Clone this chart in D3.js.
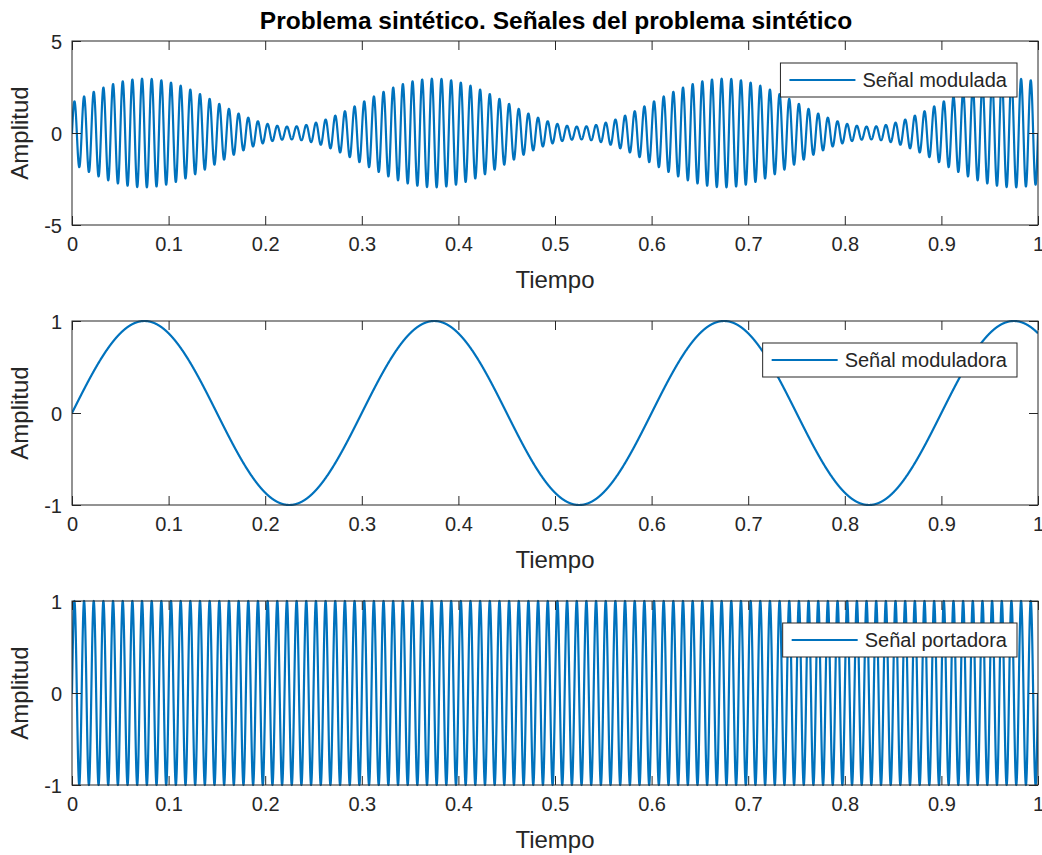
<!DOCTYPE html>
<html>
<head>
<meta charset="utf-8">
<script src="https://cdn.jsdelivr.net/npm/d3@7"></script>
<style>
  html, body { margin: 0; padding: 0; background: #ffffff; }
  svg text { font-family: "Liberation Sans", Arial, Helvetica, sans-serif; }
</style>
</head>
<body>
<svg id="chart" width="1042" height="855"></svg>
<script>
// ---- data ----
const figureTitle = "Problema sintético. Señales del problema sintético";
const seriesNames = ["Señal modulada", "Señal moduladora", "Señal portadora"];
const xLabel = "Tiempo";
const yLabel = "Amplitud";

const timeSpan = [0, 1];
const xTicks = [0, 0.1, 0.2, 0.3, 0.4, 0.5, 0.6, 0.7, 0.8, 0.9, 1];
const xTickLabels = ["0", "0.1", "0.2", "0.3", "0.4", "0.5", "0.6", "0.7", "0.8", "0.9", "1"];

const yDomains = [[-5, 5], [-1, 1], [-1, 1]];
const yTicks = [[-5, 0, 5], [-1, 0, 1], [-1, 0, 1]];
const yTickLabels = [["-5", "0", "5"], ["-1", "0", "1"], ["-1", "0", "1"]];

// signal parameters: modulator peaks at 0.075, 0.375, 0.675, 0.975 (period 0.3 s),
// carrier completes 10 cycles per 0.1 s, modulated envelope spans ~0.35 .. ~2.95
const modulatorFreq = [10 / 3];
const carrierFreq = [100];
const envelopeLevels = [1.65, 1.3];   // offset, depth
const sampleCount = 6000;

// ---- sampled signals ----
const t = d3.range(sampleCount + 1).map(i => timeSpan[0] + (timeSpan[1] - timeSpan[0]) * i / sampleCount);
const moduladora = t.map(v => Math.sin(2 * Math.PI * modulatorFreq[0] * v));
const portadora = t.map(v => Math.sin(2 * Math.PI * carrierFreq[0] * v));
const modulada = t.map((v, i) => (envelopeLevels[0] + envelopeLevels[1] * moduladora[i]) * portadora[i]);
const seriesValues = [modulada, moduladora, portadora];

// ---- layout ----
const svg = d3.select("#chart");
const left = 72, right = 1038;
const panelTops = [41, 321, 601];
const panelH = 184;
const axisColor = "#262626";
const lineColor = "#0072BD";
const tickLen = 9;

const x = d3.scaleLinear().domain(timeSpan).range([left, right]);

svg.append("text")
  .attr("x", (left + right) / 2 + 1)
  .attr("y", 29)
  .attr("text-anchor", "middle")
  .attr("font-size", 24.5)
  .attr("font-weight", "bold")
  .attr("fill", "#000")
  .text(figureTitle);

seriesValues.forEach((vals, p) => {
  const top = panelTops[p], bottom = top + panelH;
  const y = d3.scaleLinear().domain(yDomains[p]).range([bottom, top]);
  const g = svg.append("g");

  // clip to the axes box
  const clipId = "clip" + p;
  g.append("clipPath").attr("id", clipId)
    .append("rect").attr("x", left).attr("y", top - 1.5).attr("width", right - left).attr("height", panelH + 3);

  const line = d3.line().x((d, i) => x(t[i])).y(d => y(d));
  g.append("path")
    .datum(vals)
    .attr("clip-path", `url(#${clipId})`)
    .attr("fill", "none")
    .attr("stroke", lineColor)
    .attr("stroke-width", 2.2)
    .attr("stroke-linejoin", "round")
    .attr("d", line);

  // axes: inward ticks on all four sides
  const fmtX = (d, i) => xTickLabels[i];
  const fmtY = (d, i) => yTickLabels[p][i];
  const axB = g.append("g").attr("transform", `translate(0,${bottom})`)
    .call(d3.axisBottom(x).tickValues(xTicks).tickFormat(fmtX).tickSizeInner(-tickLen).tickSizeOuter(0).tickPadding(12));
  const axT = g.append("g").attr("transform", `translate(0,${top})`)
    .call(d3.axisTop(x).tickValues(xTicks).tickFormat("").tickSizeInner(-tickLen).tickSizeOuter(0));
  const axL = g.append("g").attr("transform", `translate(${left},0)`)
    .call(d3.axisLeft(y).tickValues(yTicks[p]).tickFormat(fmtY).tickSizeInner(-tickLen).tickSizeOuter(0).tickPadding(10));
  const axR = g.append("g").attr("transform", `translate(${right},0)`)
    .call(d3.axisRight(y).tickValues(yTicks[p]).tickFormat("").tickSizeInner(-tickLen).tickSizeOuter(0));

  [axB, axT, axL, axR].forEach(a => {
    a.select(".domain").remove();
    a.selectAll(".tick line").attr("stroke", axisColor).attr("stroke-width", 1);
    a.selectAll(".tick text").attr("fill", axisColor).attr("font-size", 20)
      .attr("font-family", "Liberation Sans, Arial, Helvetica, sans-serif");
  });
  axB.selectAll(".tick text").attr("dy", "0.71em");
  axL.selectAll(".tick text").attr("dy", "0.36em");

  g.append("rect")
    .attr("x", left).attr("y", top)
    .attr("width", right - left).attr("height", panelH)
    .attr("fill", "none").attr("stroke", axisColor).attr("stroke-width", 1);

  g.append("text")
    .attr("x", (left + right) / 2)
    .attr("y", bottom + 63)
    .attr("text-anchor", "middle")
    .attr("font-size", 24)
    .attr("fill", axisColor)
    .text(xLabel);

  g.append("text")
    .attr("transform", `translate(28,${(top + bottom) / 2}) rotate(-90)`)
    .attr("text-anchor", "middle")
    .attr("font-size", 24)
    .attr("fill", axisColor)
    .text(yLabel);

  // legend
  const lg = g.append("g");
  const lt = lg.append("text").attr("font-size", 20).attr("fill", axisColor).text(seriesNames[p]);
  const tw = lt.node().getComputedTextLength();
  const padL = 9, sampleLen = 66, gap = 7, padR = 10, boxH = 34;
  const boxW = padL + sampleLen + gap + tw + padR;
  const bx = right - 21 - boxW, by = top + 22;
  lg.insert("rect", "text")
    .attr("x", bx).attr("y", by).attr("width", boxW).attr("height", boxH)
    .attr("fill", "#fff").attr("stroke", axisColor).attr("stroke-width", 1);
  lg.append("line")
    .attr("x1", bx + padL).attr("x2", bx + padL + sampleLen)
    .attr("y1", by + boxH / 2).attr("y2", by + boxH / 2)
    .attr("stroke", lineColor).attr("stroke-width", 2);
  lt.attr("x", bx + padL + sampleLen + gap).attr("y", by + boxH / 2 + 7);
});
</script>
</body>
</html>
